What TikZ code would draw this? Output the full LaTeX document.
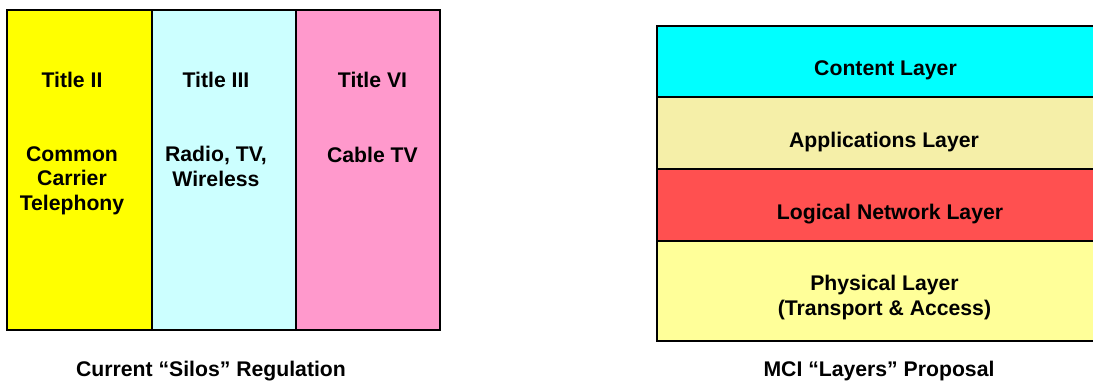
\documentclass[tikz,border=0pt]{standalone}
\usepackage{fontspec}
\setmainfont{Liberation Sans}
\definecolor{cyellow}{HTML}{FFFF00}
\definecolor{ccyan}{HTML}{CCFFFF}
\definecolor{cpink}{HTML}{FF99CC}
\definecolor{lcyan}{HTML}{00FFFF}
\definecolor{lkhaki}{HTML}{F5EFA8}
\definecolor{lred}{HTML}{FF5050}
\definecolor{lyellow}{HTML}{FFFF99}
\tikzset{
  boxline/.style={draw=black, line width=1.6bp},
  lbl/.style={font=\bfseries\fontsize{21.2bp}{24.5bp}\selectfont, align=center, inner sep=0pt, anchor=center, text depth=0pt}
}
\begin{document}
\begin{tikzpicture}[x=1bp,y=-1bp]
\useasboundingbox[fill=white] (0,0) rectangle (1093,381);
\begin{scope}
\clip (0,0) rectangle (1093,381);
% left silos
\fill[cyellow] (7,10) rectangle (152,330);
\fill[ccyan] (152,10) rectangle (296,330);
\fill[cpink] (296,10) rectangle (440,330);
\draw[boxline] (7,10) rectangle (440,330);
\draw[boxline] (152,10) -- (152,330);
\draw[boxline] (296,10) -- (296,330);
% right layers
\fill[lcyan] (657,26) rectangle (1114,97);
\fill[lkhaki] (657,97) rectangle (1114,169);
\fill[lred] (657,169) rectangle (1114,241);
\fill[lyellow] (657,241) rectangle (1114,341);
\draw[boxline] (657,26) rectangle (1114,341);
\draw[boxline] (657,97) -- (1114,97);
\draw[boxline] (657,169) -- (1114,169);
\draw[boxline] (657,241) -- (1114,241);
\end{scope}
% texts left
\node[lbl] (t2) at (72,80) {Title II};
\node[lbl] (t3) at (216,80) {Title III};
\node[lbl] (t6) at (372.5,80) {Title VI};
\node[lbl, anchor=base] (c1) at (72,210) {Common\\Carrier\\Telephony};
\node[lbl, anchor=base] (c2) at (216,186) {Radio, TV,\\Wireless};
\node[lbl, anchor=base] (c3) at (372.5,162) {Cable TV};
% texts right
\node[lbl] (content) at (885.5,68) {Content Layer};
\node[lbl] (apps) at (884,140) {Applications Layer};
\node[lbl] (logical) at (890,212) {Logical Network Layer};
\node[lbl, anchor=base] (phys) at (884.5,315) {Physical Layer\\(Transport \& Access)};
% captions
\node[lbl] (capL) at (211,369) {Current “Silos” Regulation};
\node[lbl] (capR) at (879,369) {MCI “Layers” Proposal};
\end{tikzpicture}
\end{document}
